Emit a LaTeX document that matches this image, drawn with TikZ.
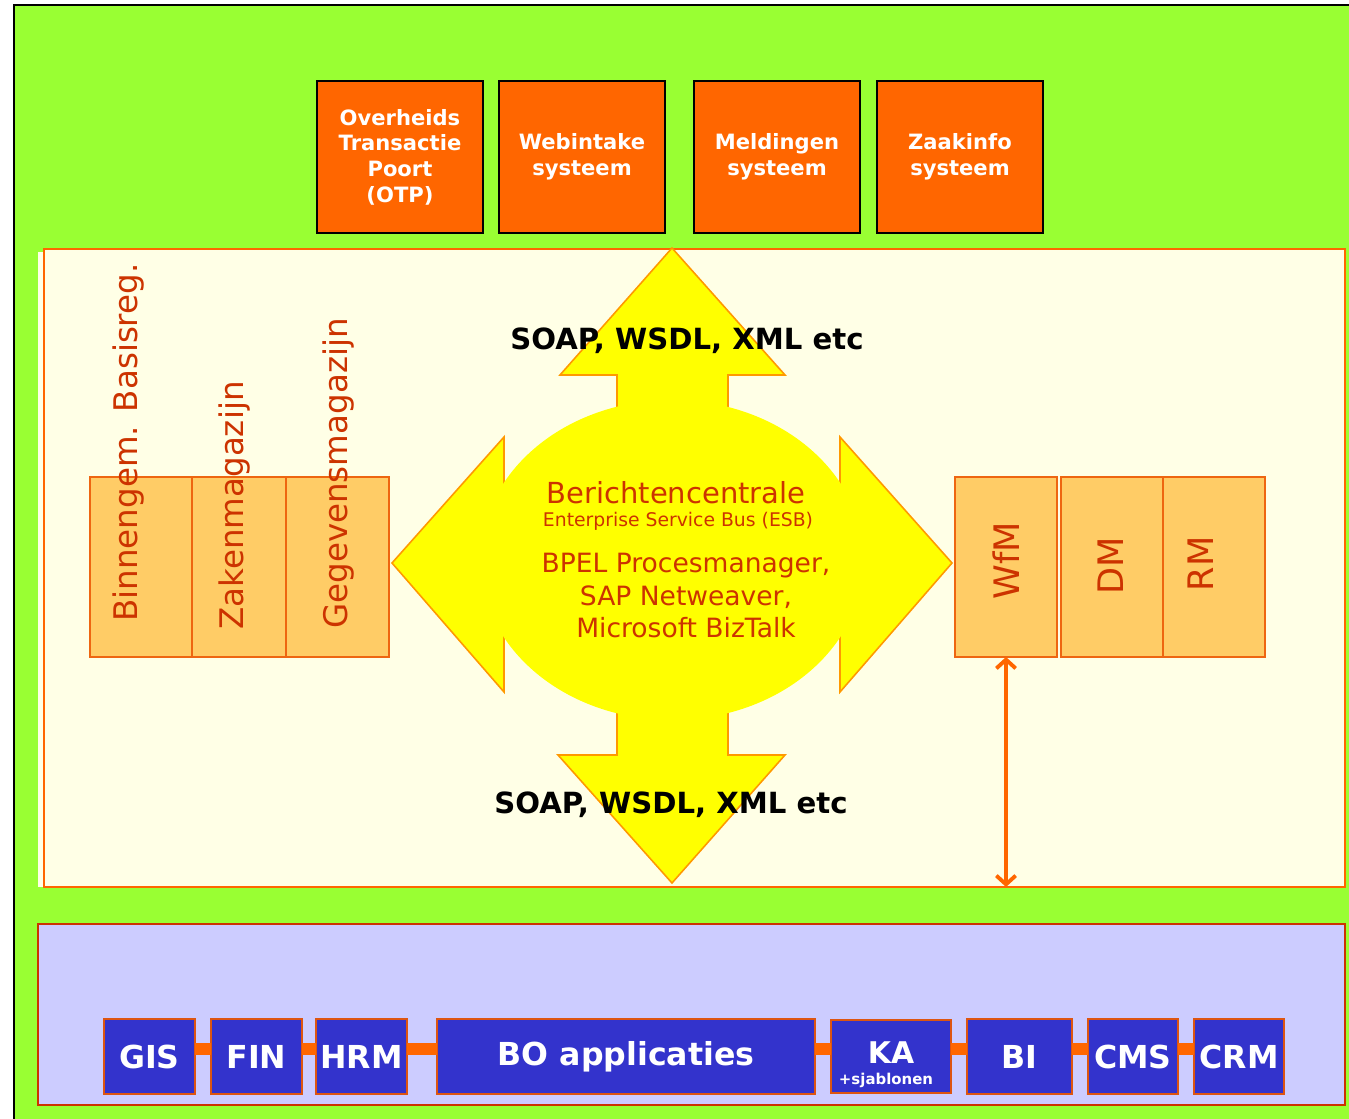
\documentclass[tikz,border=0pt]{standalone}
\usepackage{fontspec}
\setmainfont{DejaVu Sans}
\usepackage{xcolor}
\usetikzlibrary{positioning,arrows.meta}
\definecolor{bggreen}{HTML}{99FF33}
\definecolor{sysorange}{HTML}{FF6600}
\definecolor{creamfill}{HTML}{FFFFE6}
\definecolor{storefill}{HTML}{FFCC66}
\definecolor{storeline}{HTML}{EE6611}
\definecolor{redtxt}{HTML}{CC3300}
\definecolor{esbyellow}{HTML}{FFFF00}
\definecolor{esbline}{HTML}{FF9900}
\definecolor{busviolet}{HTML}{CCCCFF}
\definecolor{appblue}{HTML}{3333CC}
\definecolor{appline}{HTML}{DD5511}
\newcommand{\pxu}{0.02cm}

\begin{document}
\begin{tikzpicture}[
    x=0.02cm, y=-0.02cm,
    topbox/.style={draw=black, line width=1.1pt, fill=sysorange, text=white,
        font=\bfseries\fontsize{12}{14.6}\selectfont, align=center, inner sep=0pt, outer sep=0pt,
        minimum width=166*\pxu, minimum height=152*\pxu},
    store/.style={draw=storeline, line width=0.9pt, fill=storefill, inner sep=0pt, outer sep=0pt,
        minimum height=180*\pxu},
    vlabel/.style={text=redtxt, font=\fontsize{18.5}{20}\selectfont, rotate=90, inner sep=0pt},
    esbtxt/.style={text=redtxt, align=center, inner sep=0pt},
    soap/.style={font=\bfseries\fontsize{16.6}{20}\selectfont, inner sep=0pt},
    app/.style={draw=appline, line width=0.9pt, fill=appblue, text=white,
        font=\bfseries\fontsize{18}{20}\selectfont, inner sep=0pt, outer sep=0pt,
        minimum height=75*\pxu},
    apptxt/.style={text=white, inner sep=0pt},
    link/.style={draw=sysorange, line width=6.8pt},
]
% Page and background
\useasboundingbox (0,0) rectangle (1349,1119);
\clip (0,0) rectangle (1349,1119);
\fill[white] (0,0) rectangle (1349,1119);
\draw[fill=bggreen, line width=1.2pt] (14,5) rectangle (1380,1150);

% Middle panel
\fill[creamfill] (38,252) rectangle (44,887);
\draw[fill=creamfill, draw=sysorange, line width=1pt] (44,249) rectangle (1345,887);
\coordinate (pbot) at (1004,887);

% Front office systems
\node[topbox] (otp) at (400,157) {Overheids\\Transactie\\Poort\\(OTP)};
\node[topbox, right=0.32cm of otp] (webintake) {Webintake\\systeem};
\node[topbox, right=0.58cm of webintake] (meldingen) {Meldingen\\systeem};
\node[topbox, right=0.34cm of meldingen] (zaakinfo) {Zaakinfo\\systeem};

% Stores left
\node[store, minimum width=102*\pxu] (binnen) at (141,567) {};
\node[store, minimum width=94*\pxu, right=0pt of binnen] (zaken) {};
\node[store, minimum width=103*\pxu, right=0pt of zaken] (gegevens) {};
\node[vlabel, anchor=base west] (lbinnen) at (137,622) {Binnengem. Basisreg.};
\node[vlabel, anchor=base west] (lzaken) at (243,630) {Zakenmagazijn};
\node[vlabel, anchor=base west] (lgegevens) at (347,629) {Gegevensmagazijn};

% Stores right
\node[store, minimum width=102*\pxu] (wfm) at (1006,567) {};
\node[store, minimum width=102*\pxu, right=0.08cm of wfm] (dm) {};
\node[store, minimum width=102*\pxu, right=0pt of dm] (rm) {};
\node[vlabel, font=\fontsize{20}{22}\selectfont] (lwfm) at (1006,561) {WfM};
\node[vlabel, font=\fontsize{20}{22}\selectfont] (ldm) at (1111,566) {DM};
\node[vlabel, font=\fontsize{20}{22}\selectfont] (lrm) at (1201,564) {RM};

% ESB four way arrow
\filldraw[fill=esbyellow, draw=esbline, line width=0.9pt]
    (672,248) -- (785,375) -- (728,375) -- (728,508) -- (840,508) -- (840,437)
    -- (952,563) -- (840,692) -- (840,618) -- (728,618) -- (728,755) -- (785,755)
    -- (672,883) -- (558,755) -- (617,755) -- (617,618) -- (504,618) -- (504,692)
    -- (392,563) -- (504,437) -- (504,508) -- (617,508) -- (617,375) -- (560,375) -- cycle;
\fill[esbyellow] (672,560) ellipse [x radius=3.84cm, y radius=3.2cm];

\node[esbtxt, font=\fontsize{16.5}{18}\selectfont] (bc) at (676,493) {Berichtencentrale};
\node[esbtxt, font=\fontsize{10.7}{12}\selectfont] (esb) at (678,521) {Enterprise Service Bus (ESB)};
\node[esbtxt, font=\fontsize{15.1}{18.5}\selectfont] (bpel) at (686,596)
    {BPEL Procesmanager,\\SAP Netweaver,\\Microsoft BizTalk};
\node[soap] (soapup) at (687,341) {SOAP, WSDL, XML etc};
\node[soap] (soapdown) at (671,805) {SOAP, WSDL, XML etc};

% WfM to back office
\draw[{Straight Barb[length=5pt,width=11pt]}-{Straight Barb[length=5pt,width=11pt]},
    sysorange, line width=2.2pt] (wfm.south) -- (wfm.south |- pbot);

% Back office panel
\draw[fill=busviolet, draw=redtxt, line width=1.2pt] (38,924) rectangle (1345,1105);

\node[app, minimum width=91*\pxu] (gis) at (149.5,1056.5) {GIS};
\node[app, minimum width=91*\pxu, right=0.32cm of gis] (fin) {FIN};
\node[app, minimum width=91*\pxu, right=0.28cm of fin] (hrm) {HRM};
\node[app, minimum width=378*\pxu, right=0.6cm of hrm] (bo) {BO applicaties};
\node[app, minimum width=120*\pxu, minimum height=73*\pxu, right=0.32cm of bo] (ka) {};
\node[app, minimum width=105*\pxu, right=0.32cm of ka] (bi) {BI};
\node[app, minimum width=90*\pxu, right=0.32cm of bi] (cms) {CMS};
\node[app, minimum width=90*\pxu, right=0.32cm of cms] (crm) {CRM};
\node[apptxt, font=\bfseries\fontsize{17}{20}\selectfont, anchor=base] (katxt) at (891,1063) {KA};
\node[apptxt, font=\bfseries\fontsize{8.5}{10}\selectfont, anchor=base] (sjab) at (886,1084) {+sjablonen};

\foreach \a/\b in {gis/fin, fin/hrm, hrm/bo, bo/ka, ka/bi, bi/cms, cms/crm}
    \draw[link] ([yshift=0.15cm]\a.east) -- ([yshift=0.15cm]\b.west);

\end{tikzpicture}
\end{document}
